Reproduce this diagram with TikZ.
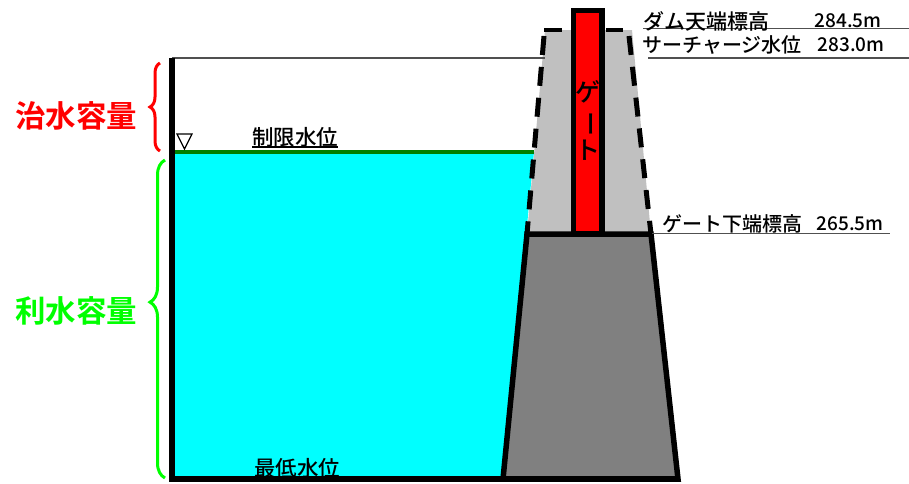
\documentclass[tikz,border=0pt]{standalone}
\usepackage{graphicx}
\usepackage{fontspec}
\setmainfont{Noto Sans CJK JP}[BoldFont={Noto Sans CJK JP Medium}]
\newfontfamily\heavyfont{Noto Sans CJK JP Bold}
\usetikzlibrary{decorations.pathreplacing}
\definecolor{waterblue}{RGB}{0,255,255}
\definecolor{limitgreen}{RGB}{0,128,0}
\definecolor{floodred}{RGB}{255,0,0}
\definecolor{usegreen}{RGB}{0,255,0}
\definecolor{upperdam}{RGB}{192,192,192}
\definecolor{lowerdam}{RGB}{128,128,128}
\definecolor{levelgray}{RGB}{80,80,80}
\tikzset{
  wall/.style={line width=5.5pt},
  sluice/.style={line width=5pt,dash pattern=on 19pt off 12pt},
  level/.style={draw=levelgray,line width=1.5pt},
  lab/.style={inner sep=0pt},
  num/.style={inner sep=0pt,font=\bfseries\fontsize{19}{22}\selectfont},
  vol/.style={inner sep=0pt,font=\heavyfont\fontsize{30.5}{34}\selectfont},
  curly/.style={line width=3pt,decorate,decoration={brace,mirror}}
}
\begin{document}
\begin{tikzpicture}[x=1pt,y=-1pt]
  \useasboundingbox (0,0) rectangle (909,483);
  \coordinate (wallt) at (172,58);
  \coordinate (wallb) at (172,479);
  \coordinate (damb) at (680,479);
  \coordinate (toel) at (503,479);
  \coordinate (toer) at (678,479);
  \coordinate (waterl) at (175,152);
  \coordinate (waterr) at (534,152);
  \coordinate (uptl) at (545,30);
  \coordinate (uptr) at (632,30);
  \coordinate (midl) at (527,234);
  \coordinate (midr) at (651,234);
  % water and dam bodies
  \fill[waterblue] (wallb) -- (172,152) -- (waterr) -- (toel) -- cycle;
  \fill[upperdam] (uptl) -- (uptr) -- (midr) -- (midl) -- cycle;
  \filldraw[fill=lowerdam,wall,line join=miter] (midl) -- (midr) -- (toer) -- (toel) -- cycle;
  % dashed sides
  \draw[sluice] (544,36) -- (midl);
  \draw[sluice] (629,36) -- (midr);
  \draw[line width=4pt] (544,30) -- (562,30);
  \draw[line width=4pt] (606,30) -- (623,30);
  % gate
  \draw[fill=floodred,wall] (573.5,10.5) rectangle (602,234);
  \node[inner sep=0pt,align=center,font=\bfseries\fontsize{25}{29}\selectfont] (gate) at (587.5,120)
    {ゲ\\\rotatebox[origin=c]{-90}{ー}\\ト};
  % levels
  \draw[level] (wallt) -- (uptl |- wallt);
  \draw[level,line width=1pt] (643,28.5) -- (909,28.5);
  \draw[level] (648,58) -- (909,58);
  \draw[level,line width=1pt] (652,233) -- (890,233);
  \draw[black,line width=1.5pt] (252,147) -- (338,147);
  \draw[limitgreen,line width=4pt] (waterl) -- (waterr);
  \draw[line width=6pt] (wallt) -- (wallb);
  \draw[wall] (169,479) -- (damb);
  \draw[line width=1.2pt] (177,134) -- (192,134) -- (184.5,149) -- cycle;
  % volumes
  \draw[floodred,curly,decoration={amplitude=10pt}] (160,63) -- (160,151);
  \draw[usegreen,curly,decoration={amplitude=15pt,aspect=0.447}] (165,160) -- (165,478);
  \node[vol,text=floodred] (flood) at (76,116) {治水容量};
  \node[vol,text=usegreen] (use) at (76,311) {利水容量};
  % labels
  \foreach \name/\x/\y/\size/\txt in {crest/706/21/21/ダム天端標高,surcharge/722/45/20/サーチャージ水位,
    sill/732/224/20/ゲート下端標高,limit/295/137/21.5/制限水位,lowest/297/468/21.5/最低水位}
    \node[lab,font=\bfseries\fontsize{\size}{24}\selectfont] (\name) at (\x,\y) {\txt};
  \foreach \name/\x/\y/\txt in {crestm/848/21/284.5m,surchargem/851/45/283.0m,sillm/850/224/265.5m}
    \node[num] (\name) at (\x,\y) {\txt};
\end{tikzpicture}
\end{document}
